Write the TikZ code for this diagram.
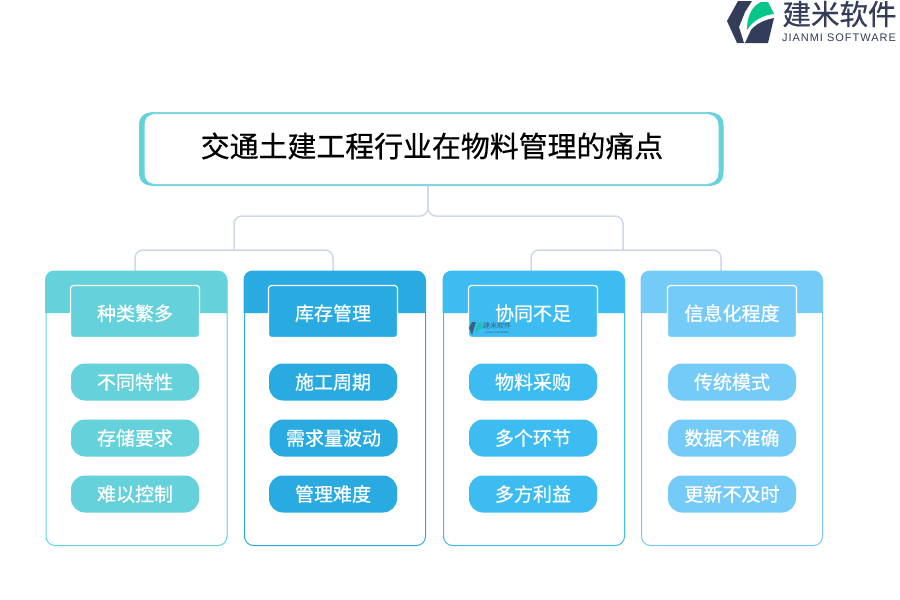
\documentclass[tikz,border=0pt]{standalone}
\usepackage{fontspec}
\setmainfont{Noto Sans CJK SC}
\newfontfamily\latn{Liberation Sans}
\newfontfamily\heavy[FakeBold=0.6]{Noto Sans CJK SC}
\usetikzlibrary{calc}
\definecolor{cteal}{HTML}{64D1DB}
\definecolor{cblue}{HTML}{29ABE2}
\definecolor{csky}{HTML}{3DBCF2}
\definecolor{clight}{HTML}{75CBF8}
\definecolor{cline}{HTML}{CFD8E8}
\definecolor{cnavy}{HTML}{333C58}
\definecolor{cgreen}{HTML}{05C58A}
\tikzset{
 x=1pt,y=-1pt,
 panelbox/.style={draw=#1,line width=1pt,rounded corners=9pt,minimum width=181pt,minimum height=274pt,inner sep=0pt,anchor=north west,fill=white},
 tabbox/.style={fill=#1,draw=white,line width=1.2pt,rounded corners=3pt,minimum width=129pt,minimum height=52pt,inner sep=0pt,text=white,text height=18pt,text depth=0pt,font=\heavy\fontsize{19}{19}\selectfont},
 pillbox/.style={fill=#1,rounded corners=14pt,minimum width=128pt,minimum height=37pt,inner sep=0pt,text=white,font=\heavy\fontsize{19}{19}\selectfont},
 linkline/.style={draw=cline,line width=1.5pt,rounded corners=8pt},
}
\begin{document}
\begin{tikzpicture}
\useasboundingbox (0,0) rectangle (900,600);
% title box and panels
\node[draw=cteal!85!white,fill=white,line width=2pt,rounded corners=16pt,minimum width=582pt,minimum height=72pt,inner sep=0pt] (title) at (431,149) {};
\coordinate (j0) at (428,186);
\coordinate (jl) at (234,250);
\coordinate (jr) at (623,250);
\node[panelbox=cteal] (p1) at (45.5,271) {};
\node[panelbox=cblue] (p2) at (244,271) {};
\node[panelbox=csky] (p3) at (443,271) {};
\node[panelbox=clight] (p4) at (641,271) {};
% connectors
\draw[linkline] (j0) -- (428,216) -- (jl |- 0,216) -- (jl);
\draw[linkline] (j0) -- (428,216) -- (jr |- 0,216) -- (jr);
\draw[linkline] (135,271) -- (135,250) -- (333,250) -- (333,271);
\draw[linkline] (531,271) -- (531,250) -- (721,250) -- (721,271);
% title side bars
\fill[cteal] (156,112) .. controls (144,112) and (139,116) .. (139,126) -- (139,172) .. controls (139,182) and (144,186) .. (156,186) .. controls (149,185) and (144.5,181) .. (144.5,172) -- (144.5,126) .. controls (144.5,117) and (149,113) .. (156,112) -- cycle;
\fill[cteal] (706,112) .. controls (718,112) and (723.5,116) .. (723.5,126) -- (723.5,172) .. controls (723.5,182) and (718,186) .. (706,186) .. controls (713,185) and (718.5,181) .. (718.5,172) -- (718.5,126) .. controls (718.5,117) and (713,113) .. (706,112) -- cycle;
\node[font=\heavy\fontsize{28.9}{29}\selectfont,text=black] (ttext) at (432,146) {交通土建工程行业在物料管理的痛点};
% headers
\foreach \x/\c in {45.5/cteal,244/cblue,443/csky,641/clight}{
 \fill[\c] (\x-0.5,313) -- (\x-0.5,280) .. controls (\x-0.5,274.5) and (\x+3.5,270.5) .. (\x+9,270.5) -- (\x+172,270.5) .. controls (\x+177.5,270.5) and (\x+181.5,274.5) .. (\x+181.5,280) -- (\x+181.5,313) -- cycle;
}
% tabs
\node[tabbox=cteal] (t1) at (135,311.5) {种类繁多};
\node[tabbox=cblue] (t2) at (333,311.5) {库存管理};
\node[tabbox=csky] (t3) at (533,311.5) {协同不足};
\node[tabbox=clight] (t4) at (732,311.5) {信息化程度};
% pills
\node[pillbox=cteal] (a1) at (135,382) {不同特性};
\node[pillbox=cteal] (a2) at (135,438) {存储要求};
\node[pillbox=cteal] (a3) at (135,494) {难以控制};
\node[pillbox=cblue] (b1) at (333,382) {施工周期};
\node[pillbox=cblue] (b2) at (333.5,438) {需求量波动};
\node[pillbox=cblue] (b3) at (333,494) {管理难度};
\node[pillbox=csky] (c1) at (533,382) {物料采购};
\node[pillbox=csky] (c2) at (533,438) {多个环节};
\node[pillbox=csky] (c3) at (533,494) {多方利益};
\node[pillbox=clight] (d1) at (732,382) {传统模式};
\node[pillbox=clight] (d2) at (732,438) {数据不准确};
\node[pillbox=clight] (d3) at (732,494) {更新不及时};
% watermark
\fill[cnavy!70!csky] (472,322) -- (476,322) -- (472,335) -- (469,328) -- cycle;
\fill[cgreen!60!csky] (475,334) .. controls (476,326) and (478,322) .. (481,322) -- (484,328) .. controls (480,328) and (477,330) .. (475,334) -- cycle;
\node[font=\fontsize{7}{7}\selectfont,text=cnavy!75!csky,inner sep=0pt] (wm) at (497,325.5) {建米软件};
\node[font=\latn\fontsize{2.6}{3}\selectfont,text=cnavy!75!csky,inner sep=0pt] (wm2) at (497,332.5) {JIANMI SOFTWARE};
% logo
\fill[cnavy] (738,1) -- (752,1) -- (745,12) -- (739,27) -- (744,43) -- (737,43) -- (727,21) -- cycle;
\fill[cnavy] (745,43) -- (751,30) .. controls (755,25) and (763,20) .. (774,18) -- (768,43) -- cycle;
\fill[cgreen] (747,30) .. controls (747,16) and (752,6) .. (761,2) -- (768,2) -- (774,14) .. controls (764,15) and (753,20) .. (747,30) -- cycle;
\node[font=\heavy\fontsize{28.5}{29}\selectfont,text=cnavy,inner sep=0pt] (ltext) at (839.5,14) {建米软件};
\node[font=\latn\fontsize{11}{11}\selectfont,text=cnavy,inner sep=0pt] (lsub) at (839,38) {\addfontfeature{LetterSpace=9}JIANMI SOFTWARE};
\end{tikzpicture}
\end{document}
